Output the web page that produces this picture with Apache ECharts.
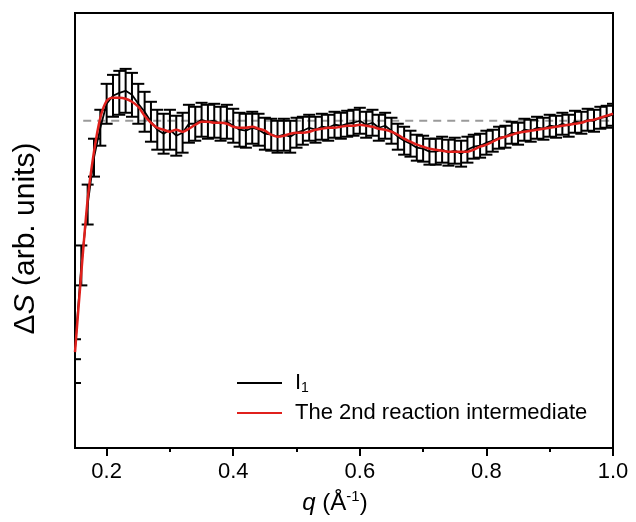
<!DOCTYPE html>
<html>
<head>
<meta charset="utf-8">
<script src="https://cdn.jsdelivr.net/npm/echarts@6/dist/echarts.min.js"></script>
<style>
html,body{margin:0;padding:0;background:#fff;}
#c{width:636px;height:522px;}
</style>
</head>
<body>
<div id="c"></div>
<script>
// q values (Å^-1)
var qValues = [0.15,0.16,0.17,0.18,0.19,0.20,0.21,0.22,0.23,0.24,0.25,0.26,0.27,0.28,0.29,0.30,0.31,0.32,0.33,0.34,0.35,0.36,0.37,0.38,0.39,0.40,0.41,0.42,0.43,0.44,0.45,0.46,0.47,0.48,0.49,0.50,0.51,0.52,0.53,0.54,0.55,0.56,0.57,0.58,0.59,0.60,0.61,0.62,0.63,0.64,0.65,0.66,0.67,0.68,0.69,0.70,0.71,0.72,0.73,0.74,0.75,0.76,0.77,0.78,0.79,0.80,0.81,0.82,0.83,0.84,0.85,0.86,0.87,0.88,0.89,0.90,0.91,0.92,0.93,0.94,0.95,0.96,0.97,0.98,0.99,1.00];
// I1 mean values (arb. units)
var i1Values = [-22.9,-14.5,-8.4,-3.7,-0.7,1.7,2.5,2.8,3.0,2.6,1.7,0.9,-0.1,-0.9,-1.3,-0.9,-1.5,-1.2,-0.3,-0.3,0.1,-0.1,0.0,-0.3,-0.1,-0.5,-0.9,-1.0,-0.7,-0.9,-1.3,-1.4,-1.6,-1.4,-1.6,-1.2,-1.0,-0.7,-0.9,-0.6,-0.7,-0.4,-0.5,-0.3,-0.2,0.0,-0.4,-0.2,-0.7,-0.5,-1.0,-1.6,-2.0,-2.3,-2.7,-2.8,-3.1,-3.1,-2.9,-3.2,-3.0,-3.3,-2.9,-2.6,-2.5,-2.2,-2.0,-1.7,-1.6,-1.2,-1.3,-0.9,-1.0,-0.7,-0.8,-0.5,-0.6,-0.3,-0.5,-0.1,-0.2,0.1,0.0,0.3,0.4,0.6];
// I1 error bar half-lengths
var i1Errors = [1.0,2.0,2.0,1.9,1.8,2.0,2.1,2.2,2.2,2.2,2.0,2.0,2.0,2.0,2.0,2.0,2.0,2.0,1.9,1.7,1.7,1.7,1.7,1.7,1.7,1.7,1.7,1.7,1.6,1.6,1.6,1.6,1.6,1.6,1.6,1.5,1.4,1.3,1.3,1.3,1.3,1.3,1.3,1.3,1.3,1.3,1.3,1.3,1.3,1.3,1.3,1.3,1.4,1.3,1.3,1.3,1.3,1.3,1.3,1.3,1.3,1.3,1.3,1.2,1.2,1.2,1.1,1.1,1.1,1.1,1.1,1.1,1.1,1.1,1.1,1.1,1.1,1.1,1.1,1.1,1.1,1.1,1.1,1.1,1.1,1.1];
// 2nd reaction intermediate (arb. units)
var intermediateValues = [-23.2,-15.2,-7.9,-3.1,0.3,2.0,2.3,2.3,2.2,1.9,1.4,0.5,-0.2,-0.7,-0.9,-1.1,-0.9,-1.1,-0.8,-0.4,-0.1,-0.1,-0.2,-0.2,-0.3,-0.6,-0.7,-0.7,-0.6,-0.8,-1.0,-1.4,-1.6,-1.5,-1.3,-1.2,-1.2,-1.1,-0.9,-0.8,-0.7,-0.7,-0.6,-0.5,-0.5,-0.4,-0.5,-0.6,-0.8,-0.9,-1.1,-1.4,-1.8,-2.1,-2.4,-2.6,-2.8,-2.9,-3.0,-3.1,-3.1,-3.1,-3.1,-2.9,-2.6,-2.4,-2.1,-1.8,-1.6,-1.4,-1.2,-1.1,-1.0,-0.9,-0.8,-0.7,-0.6,-0.5,-0.4,-0.3,-0.2,0.0,0.1,0.3,0.5,0.7];
// zero reference line
var zeroLineQ = [0.163, 1.0];
var zeroLineValues = [0, 0];
var xMajorTicks = [0.2, 0.4, 0.6, 0.8, 1.0];
var xMinorTicks = [0.3, 0.5, 0.7, 0.9];
var yTicks = [-26.3];

var FONT = "'Liberation Sans', Arial, sans-serif";

var i1Line = qValues.map(function (q, i) { return [q, i1Values[i]]; });
var errData = qValues.map(function (q, i) { return [q, i1Values[i] - i1Errors[i], i1Values[i] + i1Errors[i]]; });
var interLine = qValues.map(function (q, i) { return [q, intermediateValues[i]]; });
var zeroLine = zeroLineQ.map(function (q, i) { return [q, zeroLineValues[i]]; });

var chart = echarts.init(document.getElementById('c'), null, {renderer: 'canvas'});
chart.setOption({
  animation: false,
  backgroundColor: '#fff',
  grid: {left: 75, right: 23, top: 13, bottom: 73, show: true, borderColor: '#000', borderWidth: 2, backgroundColor: 'transparent'},
  legend: {
    orient: 'vertical', left: 232, top: 366, itemGap: 6, itemWidth: 45, itemHeight: 2, icon: 'rect',
    data: ['I1', 'The 2nd reaction intermediate'],
    formatter: function (name) { return name === 'I1' ? 'I{sub|1}' : name; },
    textStyle: {fontSize: 22, fontFamily: FONT, color: '#000', lineHeight: 24, padding: [0, 0, 0, 8],
      rich: {sub: {fontSize: 14, fontFamily: FONT, color: '#000', verticalAlign: 'bottom', lineHeight: 14}}}
  },
  xAxis: [{
    type: 'value', min: 0.15, max: 1.0, position: 'bottom',
    name: '{i|q} (Å{sup|-1})', nameLocation: 'middle', nameGap: 41,
    nameTextStyle: {fontSize: 24, fontFamily: FONT, color: '#000', lineHeight: 28, padding: [0, 18, 0, 0],
      rich: {i: {fontStyle: 'italic', fontSize: 24, fontFamily: FONT, color: '#000'},
             sup: {fontSize: 15, fontFamily: FONT, color: '#000', verticalAlign: 'top', lineHeight: 15}}},
    axisLine: {show: true, onZero: false, lineStyle: {color: '#000', width: 2}},
    axisTick: {show: true, inside: false, length: 8, customValues: xMajorTicks, lineStyle: {color: '#000', width: 2}},
    axisLabel: {show: true, customValues: xMajorTicks, margin: 13, fontSize: 22, fontFamily: FONT, color: '#000',
      formatter: function (v) { return v.toFixed(1); }},
    splitLine: {show: false}
  }, {
    type: 'value', min: 0.15, max: 1.0, position: 'bottom',
    axisLine: {show: false, onZero: false},
    axisTick: {show: true, inside: false, length: 4, customValues: xMinorTicks, lineStyle: {color: '#000', width: 2}},
    axisLabel: {show: false},
    splitLine: {show: false}
  }],
  yAxis: {
    type: 'value', min: -32.8, max: 10.8,
    name: 'Δ{i|S} (arb. units)', nameLocation: 'middle', nameGap: 34, nameRotate: 90,
    nameTextStyle: {fontSize: 30, fontFamily: FONT, color: '#000', padding: [0, 16, 0, 0],
      rich: {i: {fontStyle: 'italic', fontSize: 30, fontFamily: FONT, color: '#000'}}},
    axisLine: {show: true, onZero: false, lineStyle: {color: '#000', width: 2}},
    axisTick: {show: true, inside: true, length: 6, customValues: yTicks, lineStyle: {color: '#000', width: 2}},
    axisLabel: {show: false},
    splitLine: {show: false}
  },
  series: [
    {
      name: 'zero', type: 'line', data: zeroLine, symbol: 'none', silent: true,
      lineStyle: {color: '#9a9a9a', width: 1.8, type: [8, 6]}, z: 1
    },
    {
      name: 'I1err', type: 'custom', data: errData, clip: true, z: 2, silent: true,
      renderItem: function (params, api) {
        var x = api.value(0), lo = api.value(1), hi = api.value(2);
        var p1 = api.coord([x, hi]), p2 = api.coord([x, lo]);
        var hw = 6;
        var st = {stroke: '#000', lineWidth: 2};
        return {type: 'group', children: [
          {type: 'line', shape: {x1: p1[0], y1: p1[1], x2: p2[0], y2: p2[1]}, style: st},
          {type: 'line', shape: {x1: p1[0] - hw, y1: p1[1], x2: p1[0] + hw, y2: p1[1]}, style: st},
          {type: 'line', shape: {x1: p2[0] - hw, y1: p2[1], x2: p2[0] + hw, y2: p2[1]}, style: st}
        ]};
      }
    },
    {
      name: 'I1', type: 'line', data: i1Line, symbol: 'none', z: 3,
      color: '#000', lineStyle: {color: '#000', width: 1.8}
    },
    {
      name: 'The 2nd reaction intermediate', type: 'line', data: interLine, symbol: 'none', smooth: 0.3, z: 4,
      color: '#e0201c', lineStyle: {color: '#e0201c', width: 2.5}
    }
  ]
});
</script>
</body>
</html>
